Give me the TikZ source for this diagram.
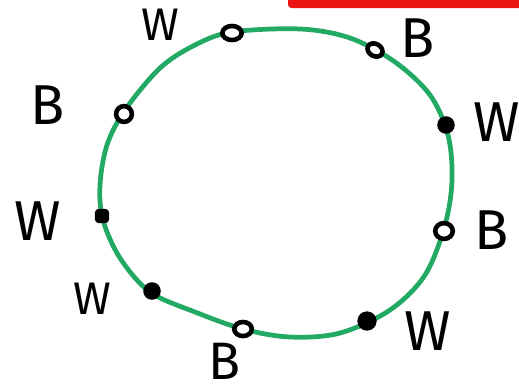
\documentclass[tikz,border=0pt]{standalone}
\usepackage{fontspec}
\setmainfont{Fira Sans}
\usetikzlibrary{shapes.geometric}
\definecolor{loopgreen}{RGB}{34,170,100}
\definecolor{barred}{RGB}{235,20,20}
\begin{document}
\begin{tikzpicture}[x=0.02cm,y=-0.02cm,
  loopline/.style={draw=loopgreen,line width=2.7pt,line cap=round,line join=round},
  opendot/.style={draw=black,line width=2.6pt,fill=white,ellipse,minimum width=11pt,minimum height=8pt,inner sep=0pt},
  fulldot/.style={circle,fill=black,minimum size=10pt,inner sep=0pt},
  biglbl/.style={inner sep=0pt,font=\fontsize{32}{32}\selectfont},
  smalllbl/.style={inner sep=0pt,font=\fontsize{26}{26}\selectfont}]
\useasboundingbox (0,0) rectangle (519,386);
\fill[barred,rounded corners=2pt] (288,-5) rectangle (525,8);
\draw[loopline] plot[smooth cycle,tension=0.55] coordinates {
  (232,32) (300,29) (350,38) (395,62) (430,95) (448,135) (452,180)
  (445,225) (425,275) (390,310) (340,333) (290,337) (243,329) (195,312)
  (150,292) (120,258) (103,220) (100,185) (107,145) (125,110) (160,68) (195,45)};
\node[opendot] (w1) at (232,33) {};
\node[opendot,rotate=-30,minimum width=9pt,minimum height=7pt] (b1) at (375,50) {};
\node[fulldot] (w2) at (446,125) {};
\node[opendot,minimum width=10pt,minimum height=9pt] (b2) at (444,231) {};
\node[fulldot,minimum size=11pt] (w3) at (367,321) {};
\node[opendot,minimum width=10pt,minimum height=8pt] (b3) at (243,329) {};
\node[fulldot] (w4) at (152,291) {};
\node[fulldot,rectangle,rounded corners=2pt,minimum size=8pt] (w5) at (102,216) {};
\node[opendot,minimum width=9pt,minimum height=9pt] (b4) at (124,114) {};
\node[smalllbl] (lw1) at (160,25) {W};
\node[biglbl] (lb1) at (418,38) {B};
\node[biglbl] (lw2) at (497,122) {W};
\node[biglbl] (lb2) at (492,230) {B};
\node[biglbl] (lw3) at (428,331) {W};
\node[biglbl,font=\fontsize{30}{30}\selectfont] (lb3) at (225,361) {B};
\node[smalllbl] (lw4) at (92,299) {W};
\node[biglbl] (lw5) at (38,221) {W};
\node[biglbl] (lb4) at (48,105) {B};
\end{tikzpicture}
\end{document}
